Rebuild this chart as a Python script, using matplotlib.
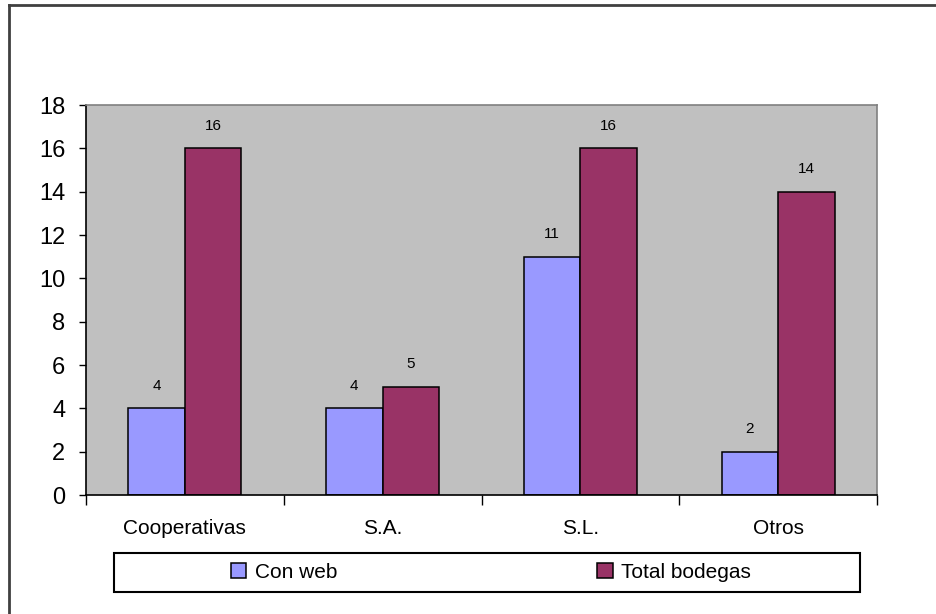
import numpy as np
import matplotlib.pyplot as plt
from matplotlib.lines import Line2D
from matplotlib.patches import Rectangle

plt.rcParams['font.family'] = ['Liberation Sans', 'DejaVu Sans']

categories = ['Cooperativas', 'S.A.', 'S.L.', 'Otros']
con_web = [4, 4, 11, 2]
total_bodegas = [16, 5, 16, 14]
series_names = ['Con web', 'Total bodegas']
yticks = list(range(0, 19, 2))

W, H = 936, 614
fig = plt.figure(figsize=(W / 100, H / 100), dpi=100)
fig.patch.set_facecolor('white')

# plot area in pixel terms
ax = fig.add_axes([86 / W, (H - 495) / H, 791 / W, 390 / H])
ax.set_facecolor('#C0C0C0')

x = np.arange(len(categories))
bw = 1 / 3.5
b1 = ax.bar(x - bw / 2, con_web, bw, color='#9999FF', edgecolor='black', linewidth=1.1, label=series_names[0])
b2 = ax.bar(x + bw / 2, total_bodegas, bw, color='#993366', edgecolor='black', linewidth=1.1, label=series_names[1])

for bars in (b1, b2):
    for r in bars:
        ax.annotate('{0}'.format(int(r.get_height())), (r.get_x() + r.get_width() / 2, r.get_height()),
                    xytext=(0, 11), textcoords='offset points', ha='center', va='bottom', fontsize=11)

ax.set_xlim(-0.5, len(categories) - 0.5)
ax.set_ylim(0, 18)
ax.set_yticks(yticks)
ax.tick_params(axis='y', direction='out', length=5, width=1, pad=10, labelsize=17)

ax.set_xticks(x)
ax.set_xticklabels(categories)
ax.set_xticks(np.arange(-0.5, len(categories), 1), minor=True)
ax.tick_params(axis='x', which='major', length=0, pad=17, labelsize=15)
ax.tick_params(axis='x', which='minor', direction='out', length=7, width=1)

for s in ['left', 'bottom']:
    ax.spines[s].set_color('black')
    ax.spines[s].set_linewidth(1.2)
for s in ['top', 'right']:
    ax.spines[s].set_color('#808080')
    ax.spines[s].set_linewidth(1.2)

# legend box
fig.patches.append(Rectangle((114 / W, (H - 592) / H), 746 / W, 39 / H, transform=fig.transFigure,
                             facecolor='white', edgecolor='black', linewidth=1.5))
leg = fig.legend(handles=[b1, b2], loc='center', bbox_to_anchor=(491 / W, (H - 572) / H), ncol=2,
                 frameon=False, fontsize=15, handlelength=0.75, handleheight=0.75,
                 handletextpad=0.4, columnspacing=12.5)

# outer border (left and top only)
fig.add_artist(Line2D([9 / W, 9 / W], [0, (H - 5) / H], transform=fig.transFigure, color='#404040', lw=2))
fig.add_artist(Line2D([9 / W, 1], [(H - 5) / H, (H - 5) / H], transform=fig.transFigure, color='#404040', lw=2))

fig.savefig('out.png', dpi=100)
